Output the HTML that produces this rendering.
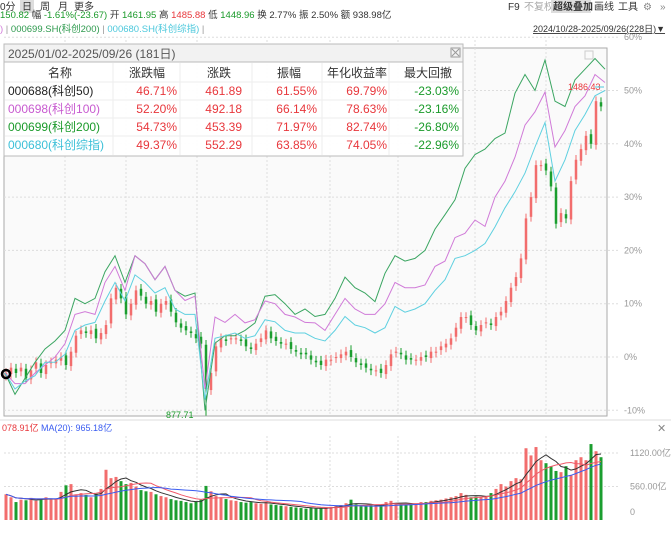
<!DOCTYPE html>
<html><head><meta charset="utf-8"><style>
body{margin:0;width:671px;height:529px;overflow:hidden;background:#fff;font-family:"Liberation Sans","Noto Sans CJK SC",sans-serif;}
svg text{font-family:"Liberation Sans","Noto Sans CJK SC",sans-serif;}
</style></head><body>
<svg id="c" width="671" height="529" xmlns="http://www.w3.org/2000/svg">
<g font-size="10" fill="#333">
<text x="0" y="10">0分</text>
<rect x="20" y="0" width="14" height="13" fill="#ddd"/>
<text x="22" y="10">日</text>
<text x="40" y="10">周</text>
<text x="58" y="10">月</text>
<text x="74" y="10">更多</text>
<text x="508" y="10">F9</text>
<text x="524" y="10" fill="#aaa">不复权</text>
<rect x="551" y="0" width="40" height="13" fill="#ddd"/>
<text x="553" y="10" font-weight="bold">超级叠加</text>
<text x="594" y="10">画线</text>
<text x="618" y="10">工具</text>
<text x="643" y="10" fill="#888">⚙</text>
<text x="660" y="10" fill="#888">»</text>
</g>
<text x="0" y="18" font-size="9.5"><tspan fill="#1a9a2a">150.82</tspan><tspan fill="#333"> 幅 </tspan><tspan fill="#1a9a2a">-1.61%(-23.67)</tspan><tspan fill="#333">  开 </tspan><tspan fill="#1a9a2a">1461.95</tspan><tspan fill="#333">  高 </tspan><tspan fill="#e8373c">1485.88</tspan><tspan fill="#333">  低 </tspan><tspan fill="#1a9a2a">1448.96</tspan><tspan fill="#333">  换 2.77%  振 2.50%  额 938.98亿</tspan></text>
<text x="0" y="32" font-size="9.5"><tspan fill="#d07ad8">)</tspan><tspan fill="#999"> | </tspan><tspan fill="#2e9a4e">000699.SH(科创200)</tspan><tspan fill="#999"> | </tspan><tspan fill="#4cc8dc">000680.SH(科创综指)</tspan><tspan fill="#999"> |</tspan></text>
<text x="533" y="32" font-size="9" fill="#333" text-decoration="underline">2024/10/28-2025/09/26(228日)▼</text>
<rect x="4" y="48" width="603" height="368" fill="#fafafa" stroke="#aaa"/>
<g id="grid"></g>
<g id="axis" font-size="9" fill="#999"></g>
<g id="candles"></g>
<g id="lines"></g>
<g id="vol"></g>
<text x="166" y="418" font-size="9" fill="#1a9a2a">877.71</text>
<text x="568" y="90" font-size="9" fill="#e8373c">1486.43</text>
<line x1="595" y1="87" x2="604" y2="87" stroke="#4cc8dc"/>
<circle cx="6" cy="374" r="4" fill="none" stroke="#000" stroke-width="2.5"/>
<rect x="585" y="51" width="8" height="8" fill="none" stroke="#ccc"/>
<g font-size="12">
<rect x="4" y="44" width="459" height="112" fill="#fff" fill-opacity="0.96" stroke="#bbb"/>
<rect x="4" y="44" width="459" height="18" fill="#f2f2f2" stroke="#bbb"/>
<text x="8" y="58" fill="#555" font-size="12">2025/01/02-2025/09/26 (181日)</text>
<rect x="451" y="48" width="9" height="9" fill="none" stroke="#999"/>
<path d="M452 49L459 56M459 49L452 56" stroke="#999"/>
<g fill="#333" text-anchor="middle">
<text x="60" y="77">名称</text><text x="147" y="77">涨跌幅</text><text x="219" y="77">涨跌</text><text x="289" y="77">振幅</text><text x="357" y="77">年化收益率</text><text x="428" y="77">最大回撤</text>
</g>
<g stroke="#eee"><line x1="113" y1="63" x2="113" y2="155"/><line x1="180" y1="63" x2="180" y2="155"/><line x1="252" y1="63" x2="252" y2="155"/><line x1="322" y1="63" x2="322" y2="155"/><line x1="389" y1="63" x2="389" y2="155"/>
<line x1="5" y1="82" x2="462" y2="82"/><line x1="5" y1="100" x2="462" y2="100"/><line x1="5" y1="118" x2="462" y2="118"/><line x1="5" y1="136" x2="462" y2="136"/></g>
<g text-anchor="end" fill="#e8373c">
<text x="8" y="95" text-anchor="start" fill="#222">000688(科创50)</text><text x="177" y="95">46.71%</text><text x="242" y="95">461.89</text><text x="317" y="95">61.55%</text><text x="387" y="95">69.79%</text><text x="459" y="95" fill="#1a9a2a">-23.03%</text>
<text x="8" y="113" text-anchor="start" fill="#c85ad0">000698(科创100)</text><text x="177" y="113">52.20%</text><text x="242" y="113">492.18</text><text x="317" y="113">66.14%</text><text x="387" y="113">78.63%</text><text x="459" y="113" fill="#1a9a2a">-23.16%</text>
<text x="8" y="131" text-anchor="start" fill="#1a9a2a">000699(科创200)</text><text x="177" y="131">54.73%</text><text x="242" y="131">453.39</text><text x="317" y="131">71.97%</text><text x="387" y="131">82.74%</text><text x="459" y="131" fill="#1a9a2a">-26.80%</text>
<text x="8" y="149" text-anchor="start" fill="#3cc0d8">000680(科创综指)</text><text x="177" y="149">49.37%</text><text x="242" y="149">552.29</text><text x="317" y="149">63.85%</text><text x="387" y="149">74.05%</text><text x="459" y="149" fill="#1a9a2a">-22.96%</text>
</g></g>
<line x1="0" y1="420" x2="671" y2="420" stroke="#ddd"/>
<text x="2" y="431" font-size="9"><tspan fill="#e8373c">078.91亿</tspan><tspan fill="#3a5cf0">  MA(20): 965.18亿</tspan></text>
<text x="657" y="432" font-size="11" fill="#888">✕</text>
</svg>
<script>
const pctTicks=[60,50,40,30,20,10,0,-10];
const volTicks=[1120,560,0];
const volTickLabels=["1120.00亿","560.00亿","0"];
const kc200=[-3,-7,-4,-1,1.5,3,5,11,10,11,16,19,14,19,17.5,14.5,17,12.5,11.4,12,-10,2.6,4,4,5,6.4,11.4,11.7,10,8,9,7.6,8,11,15,13,12,10.4,15.7,19,18,18.5,20,24,26.7,29.5,35.4,38,39,41,42,49.5,53,50,55.7,48,47,52,54,56,54];
const kc100=[-3,-5,-5,-3,-1.5,0,2.5,8,8.5,8,14,17,12.5,19,17.5,14.5,17,12.5,10.6,11.4,-6,7.5,6.5,8,6.4,7,10.5,10,8,7.5,6.5,6.4,5,8,11,9,8,8,10,14,13,13,13.5,17,18,22.4,23.2,25.7,24.5,30,33,37.5,43.5,46,49.7,39.4,42.5,47,49,53,51.5];
const kcAll=[-3,-6,-4.5,-3.5,-1,-1,0.5,5,6,6.5,10.5,14,10.5,15.4,14,12,13,9,8,8,-8,3.5,4,4.5,3.5,4,7,6.6,5,4.5,4.5,3.5,3,5,7.6,6,5.5,4.5,5.5,9.5,8.4,9,10,12.5,14.5,18.5,19,20,21.3,24.4,28,31,34.5,39.4,44,33,37,42.5,45.5,49,50];
const kc50Close=[-3,-2,-3,-2,-4,-2.5,-1,-3,-1.5,-1,-0.5,0,-1.5,1,4,5,4.5,5,3.5,4.5,6,11,13,11,8,10,12.5,11.5,10,10.5,8.5,10,10.5,8.5,6.5,5.5,5,4.5,3.5,2.5,-6,-3,2,3.5,3,3.5,3.5,3,2,1.5,2.5,3.5,5,3.5,3,2.5,2.5,1.5,1,0.5,0.5,-0.5,-1,-1.5,-0.5,-0.5,0,0.5,1,0,-1,-1.5,-2,-2.5,-2.5,-3,-1.5,0.5,1,0.5,-0.5,-0.5,-0.5,0,0,1,1,2,2.5,3.5,5.5,7.5,7.5,6,5,6,6.5,6,7.5,8.5,10.5,13,15,18.5,26,30,36,36,35,32,25,27,26,33,37,39,41.5,40,48,47];
const volume=[430,380,300,340,330,370,320,350,380,340,360,470,580,600,430,450,420,380,440,520,840,700,720,650,600,620,560,500,480,470,430,400,380,350,330,320,300,280,310,340,570,480,400,380,350,330,320,300,290,300,280,270,300,260,250,240,230,220,210,200,190,200,190,200,210,220,240,250,280,340,260,230,240,250,260,240,300,320,280,270,250,260,280,300,300,320,330,340,360,380,400,450,420,380,390,380,400,450,520,600,560,650,700,680,1200,1080,1220,1000,950,900,820,800,900,750,1000,1050,1000,1270,1150,1050];
const NS='http://www.w3.org/2000/svg';
const yP=p=>357-p*5.33;
const xL=i=>5+i*(600/(kc200.length-1));
const xC=i=>6+i*(595/(kc50Close.length-1));
const yV=v=>520-v*0.0598;
const vGrid=[65,126,197,267,330,398,475,546];
function mk(parent,tag,attrs){const e=document.createElementNS(NS,tag);for(const k in attrs)e.setAttribute(k,attrs[k]);document.getElementById(parent).appendChild(e);return e;}
vGrid.forEach(x=>{
 const l=mk('grid','line',{x1:x,y1:40,x2:x,y2:416,stroke:'#ddd','stroke-dasharray':'2,2'});
 
 
 const l2=mk('grid','line',{x1:x,y1:436,x2:x,y2:520,stroke:'#ddd','stroke-dasharray':'2,2'});
 
 
});
pctTicks.forEach(p=>{
 const l=mk('grid','line',{x1:4,y1:yP(p),x2:620,y2:yP(p),stroke:'#ddd','stroke-dasharray':'2,2'});
 
 
 const t=mk('axis','text',{x:624,y:yP(p)+3});
 t.textContent=p+'%';
 
 
});
volTicks.forEach((v,i)=>{
 const y=yV(v);
 if(v>0){const l=mk('vol','line',{x1:4,y1:y,x2:620,y2:y,stroke:'#ddd','stroke-dasharray':'2,2'});
 
 }
 const t=mk('vol','text',{x:630,y:v>0?y+3:515,'font-size':9,fill:'#999'});
 t.textContent=volTickLabels[i];
 
 
});
const ups=[];
kc50Close.forEach((c,i)=>{
 const o=i===0?c-0.5:kc50Close[i-1]+(i%3===0?0.3:-0.2);
 const up=c>=o;ups.push(up);
 const hi=Math.max(o,c)+0.9, lo=(i===40?-11:Math.min(o,c)-0.9);
 const col=up?'#f26d6d':'#1b9e2f';
 const w=mk('candles','line',{x1:xC(i),x2:xC(i),y1:yP(hi),y2:yP(lo),stroke:col,'stroke-width':1});
 
 
 const top=yP(Math.max(o,c)),h=Math.max(1,Math.abs(yP(o)-yP(c)));
 const b=mk('candles','rect',{x:xC(i)-1.25,y:top,width:2.5,height:h,fill:col});
 
 
});
[[kc200,'#3aa561','kc200-line'],[kc100,'#d07ad8','kc100-line'],[kcAll,'#5fd0e0','kcall-line']].forEach(([arr,col,name])=>{
 const d=arr.map((v,i)=>(i?'L':'M')+xL(i).toFixed(1)+' '+yP(v).toFixed(1)).join('');
 const p=mk('lines','path',{d:d,fill:'none',stroke:col,'stroke-width':1});
 
 
});
volume.forEach((v,i)=>{
 const r=mk('vol','rect',{x:xC(i)-1.5,y:yV(v),width:3,height:520-yV(v),fill:ups[i]?'#f26d6d':'#1b9e2f'});
 
 
});
[[5,'#333','vol-ma5'],[10,'#f05a6a','vol-ma10'],[20,'#3a5cf0','vol-ma20']].forEach(([n,col,name])=>{
 const pts=volume.map((v,i)=>{const s=volume.slice(Math.max(0,i-n+1),i+1);return s.reduce((a,b)=>a+b,0)/s.length;});
 const d=pts.map((v,i)=>(i?'L':'M')+xC(i).toFixed(1)+' '+yV(v).toFixed(1)).join('');
 const p=mk('vol','path',{d:d,fill:'none',stroke:col,'stroke-width':1});
 
 
});
</script>
</body></html>
